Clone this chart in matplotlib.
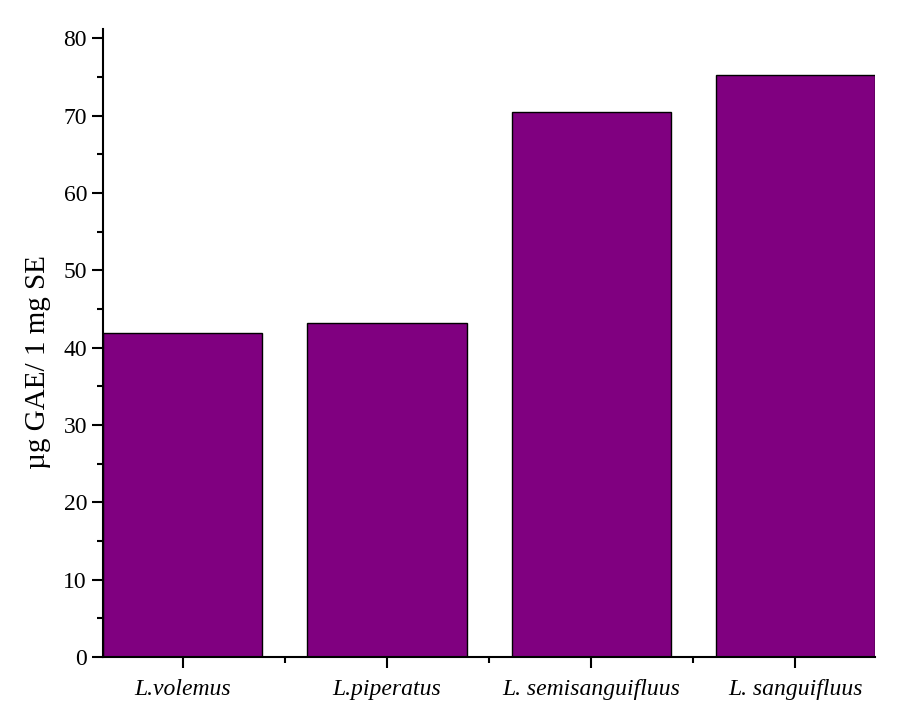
import matplotlib
matplotlib.use('Agg')
import matplotlib.pyplot as plt
from matplotlib.ticker import MultipleLocator, FixedLocator

plt.rcParams['font.family'] = ['Liberation Serif', 'DejaVu Serif']

species = ['L.volemus', 'L.piperatus', 'L. semisanguifluus', 'L. sanguifluus']
values = [41.9, 43.2, 70.5, 75.3]
pos = [1, 2, 3, 4]

fig = plt.figure(figsize=(9.02, 7.07), dpi=100)
ax = fig.add_axes([0.1142, 0.0707, 0.856, 0.888])
ax.bar(pos, values, width=0.78, color='#800080', edgecolor='black', linewidth=1.0)

ax.set_xlim(0.61, 4.39)
ax.set_ylim(0, 81.2)
ax.set_xticks(pos)
ax.set_xticklabels(species, fontstyle='italic', fontsize=17)
ax.xaxis.set_minor_locator(FixedLocator([1.5, 2.5, 3.5]))
ax.yaxis.set_major_locator(MultipleLocator(10))
ax.yaxis.set_minor_locator(MultipleLocator(5))
ax.tick_params(axis='y', labelsize=17)
ax.tick_params(axis='x', pad=8)
ax.tick_params(which='major', direction='out', length=8, width=1.5)
ax.tick_params(which='minor', direction='out', length=4.5, width=1.5)
ax.set_ylabel('µg GAE/ 1 mg SE', fontsize=21)
ax.yaxis.set_label_coords(-0.068, 0.47)

for s in ['top', 'right']:
    ax.spines[s].set_visible(False)
for s in ['left', 'bottom']:
    ax.spines[s].set_linewidth(1.5)

fig.savefig('out.png', dpi=100)
